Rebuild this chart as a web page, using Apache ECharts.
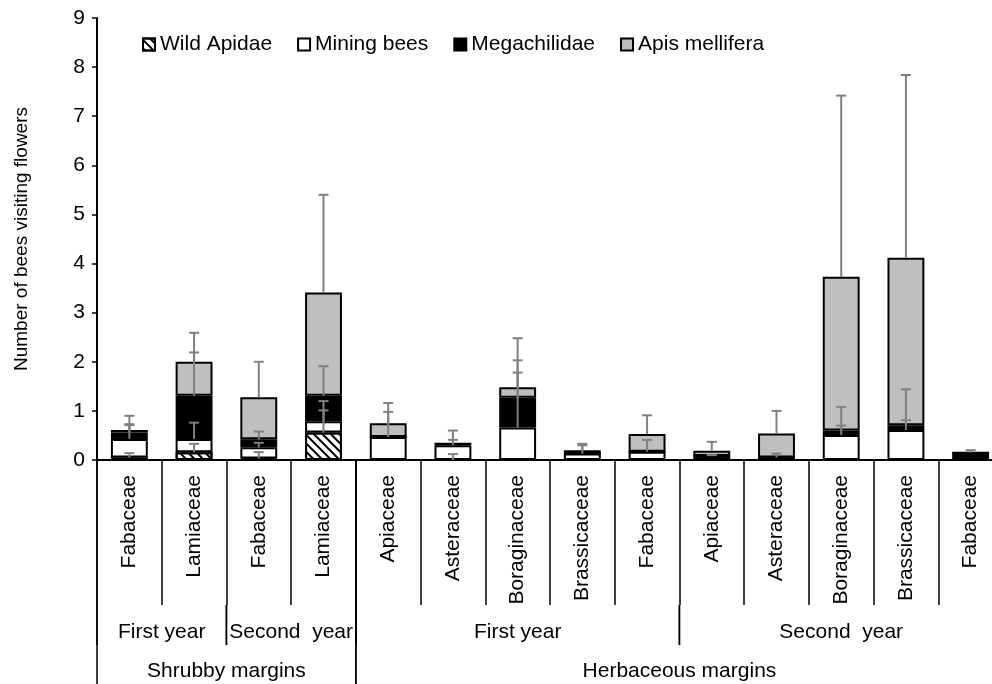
<!DOCTYPE html>
<html>
<head>
<meta charset="utf-8">
<script src="https://cdn.jsdelivr.net/npm/echarts@6/dist/echarts.min.js"></script>
<style>
  html, body { margin: 0; padding: 0; background: #fff; }
  #main { width: 992px; height: 684px; }
</style>
</head>
<body>
<div id="main"></div>
<script>
var categories = ['Fabaceae', 'Lamiaceae', 'Fabaceae', 'Lamiaceae', 'Apiaceae', 'Asteraceae', 'Boraginaceae',
    'Brassicaceae', 'Fabaceae', 'Apiaceae', 'Asteraceae', 'Boraginaceae', 'Brassicaceae', 'Fabaceae'];

// mean number of bees per group (stack segments)
var wildApidae    = [0.05, 0.16, 0.03, 0.56, 0, 0, 0, 0, 0, 0, 0, 0, 0, 0];
var miningBees    = [0.38, 0.27, 0.23, 0.23, 0.47, 0.30, 0.66, 0.13, 0.17, 0.08, 0.05, 0.51, 0.61, 0];
var megachilidae  = [0.13, 0.88, 0.16, 0.52, 0, 0.03, 0.61, 0, 0, 0, 0, 0.09, 0.10, 0.15];
var apisMellifera = [0.05, 0.69, 0.86, 2.10, 0.28, 0, 0.21, 0.07, 0.36, 0.11, 0.49, 3.13, 3.41, 0];

// standard errors (drawn upward from the top of each segment)
var wildSE   = [0.09, 0.17, 0.13, 0.45, 0, 0.12, 0, 0, 0, 0, 0, 0, 0, 0];
var miningSE = [0.28, 0.33, 0.09, 0.41, 0.51, 0.11, 1.12, 0.17, 0.24, 0.02, 0.08, 0.19, 0.20, 0];
var megaSE   = [0.17, 0.88, 0.16, 0.60, 0, 0.27, 0.76, 0, 0, 0, 0, 0.48, 0.73, 0.05];
var apisSE   = [0.29, 0.59, 0.72, 1.99, 0.41, 0, 1.00, 0.13, 0.38, 0.18, 0.46, 3.69, 3.72, 0];

// grouping of the x axis
var yearLabels = ['First year', 'Second  year', 'First year', 'Second  year'];
var yearStart = [0, 2, 4, 9];
var yearEnd = [1, 3, 8, 13];
var marginLabels = ['Shrubby margins', 'Herbaceous margins'];
var marginStart = [0, 4];
var marginEnd = [3, 13];

var seriesNames = ['Wild Apidae', 'Mining bees', 'Megachilidae', 'Apis mellifera'];
var FONT = 'Liberation Sans, Arial, sans-serif';

var myChart = echarts.init(document.getElementById('main'));

// error bar items: [category, base, top]
var stacks = [wildApidae, miningBees, megachilidae, apisMellifera];
var errs = [wildSE, miningSE, megaSE, apisSE];
var errData = [];
for (var i = 0; i < categories.length; i++) {
    var cum = 0;
    for (var s = 0; s < stacks.length; s++) {
        cum += stacks[s][i];
        if (errs[s][i] > 0) {
            errData.push([i, cum, cum + errs[s][i]]);
        }
    }
}

var yearData = [];
for (var k = 0; k < yearLabels.length; k++) {
    yearData.push([yearStart[k], yearEnd[k], 0, yearLabels[k]]);
}
var marginData = [];
for (var m = 0; m < marginLabels.length; m++) {
    marginData.push([marginStart[m], marginEnd[m], 0, marginLabels[m]]);
}

function groupRender(lineFrom, lineTo, labelY) {
    return function (params, api) {
        var bw = api.size([1, 0])[0];
        var a = api.coord([api.value(0), 0]);
        var b = api.coord([api.value(1), 0]);
        var x1 = a[0] - bw / 2, x2 = b[0] + bw / 2, y0 = a[1];
        var ls = {stroke: '#000', lineWidth: 1.5};
        return {
            type: 'group',
            children: [
                {type: 'line', shape: {x1: x1, y1: y0 + lineFrom, x2: x1, y2: y0 + lineTo}, style: ls},
                {type: 'line', shape: {x1: x2, y1: y0 + lineFrom, x2: x2, y2: y0 + lineTo}, style: ls},
                {type: 'text', style: {
                    text: api.value(3), x: (x1 + x2) / 2, y: y0 + labelY,
                    align: 'center', verticalAlign: 'middle',
                    fontSize: 21, fontFamily: FONT, fill: '#000'
                }}
            ]
        };
    };
}

function barSeries(name, data, color, decal) {
    var st = {color: color, borderColor: '#000', borderWidth: 2};
    if (decal) st.decal = decal;
    return {
        name: name,
        type: 'bar',
        stack: 'bees',
        barWidth: '57%',
        data: data,
        itemStyle: st,
        emphasis: {disabled: true}
    };
}

var option = {
    animation: false,
    textStyle: {fontFamily: FONT},
    legend: {
        data: seriesNames,
        left: 137,
        top: 29,
        itemGap: 25,
        itemWidth: 12,
        itemHeight: 12,
        icon: 'rect',
        textStyle: {fontSize: 21, color: '#000', fontFamily: FONT}
    },
    grid: {
        left: 97,
        top: 18,
        bottom: 224,
        right: -11,
        containLabel: false,
        outerBoundsMode: 'none'
    },
    xAxis: {
        type: 'category',
        data: categories,
        axisLine: {lineStyle: {color: '#000', width: 2}},
        axisTick: {show: true, interval: 0, length: 145, lineStyle: {color: '#000', width: 1.5}},
        axisLabel: {interval: 0, rotate: 90, margin: 15, fontSize: 21, color: '#000', fontFamily: FONT}
    },
    yAxis: {
        type: 'value',
        min: 0,
        max: 9,
        interval: 1,
        name: 'Number of bees visiting flowers',
        nameLocation: 'middle',
        nameGap: 66,
        nameTextStyle: {fontSize: 19, color: '#000', fontFamily: FONT},
        axisLine: {show: true, lineStyle: {color: '#000', width: 2}},
        axisTick: {show: true, length: 5, lineStyle: {color: '#000', width: 1.5}},
        axisLabel: {fontSize: 21, color: '#000', margin: 12, fontFamily: FONT},
        splitLine: {show: false}
    },
    series: [
        barSeries('Wild Apidae', wildApidae, '#fff', {
            color: '#000', symbol: 'rect', dashArrayX: [1, 0], dashArrayY: [2, 4], rotation: Math.PI / 4
        }),
        barSeries('Mining bees', miningBees, '#fff'),
        barSeries('Megachilidae', megachilidae, '#000'),
        barSeries('Apis mellifera', apisMellifera, '#bfbfbf'),
        {
            type: 'custom',
            name: 'se',
            data: errData,
            encode: {x: 0, y: [1, 2]},
            z: 10,
            silent: true,
            renderItem: function (params, api) {
                var p0 = api.coord([api.value(0), api.value(1)]);
                var p1 = api.coord([api.value(0), api.value(2)]);
                var st = {stroke: '#808080', lineWidth: 2};
                return {
                    type: 'group',
                    children: [
                        {type: 'line', shape: {x1: p0[0], y1: p0[1], x2: p1[0], y2: p1[1]}, style: st},
                        {type: 'line', shape: {x1: p1[0] - 5, y1: p1[1], x2: p1[0] + 5, y2: p1[1]}, style: st}
                    ]
                };
            }
        },
        {
            type: 'custom',
            name: 'years',
            data: yearData,
            encode: {x: [0, 1], y: 2},
            clip: false,
            silent: true,
            renderItem: groupRender(145, 185, 172)
        },
        {
            type: 'custom',
            name: 'margins',
            data: marginData,
            encode: {x: [0, 1], y: 2},
            clip: false,
            silent: true,
            renderItem: groupRender(0, 224, 211)
        }
    ]
};

myChart.setOption(option);
</script>
</body>
</html>
